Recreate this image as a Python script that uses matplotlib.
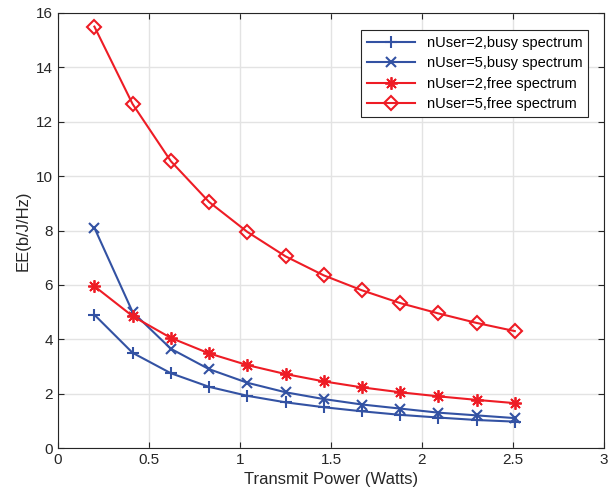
import numpy as np
import matplotlib
matplotlib.use('Agg')
import matplotlib.pyplot as plt

power = [0.2, 0.41, 0.62, 0.83, 1.04, 1.25, 1.46, 1.67, 1.88, 2.09, 2.3, 2.51]
busy2 = [4.9, 3.5, 2.75, 2.25, 1.92, 1.68, 1.5, 1.35, 1.22, 1.12, 1.03, 0.97]
busy5 = [8.1, 5.0, 3.65, 2.9, 2.4, 2.05, 1.8, 1.6, 1.45, 1.3, 1.2, 1.1]
free2 = [5.95, 4.85, 4.05, 3.48, 3.05, 2.72, 2.45, 2.23, 2.05, 1.9, 1.77, 1.65]
free5 = [15.5, 12.65, 10.55, 9.05, 7.95, 7.05, 6.35, 5.8, 5.33, 4.95, 4.6, 4.3]

plt.rcParams['font.family'] = ['Liberation Sans', 'DejaVu Sans']
blue = '#3352a3'
red = '#ee1c25'

fig = plt.figure(figsize=(6.09, 5.03), dpi=100)
ax = fig.add_axes([58/609, 1-448/503, 546/609, 435/503])

ax.plot(power, busy2, color=blue, marker='+', ms=9, mew=1.5, lw=1.5, label='nUser=2,busy spectrum')
ax.plot(power, busy5, color=blue, marker='x', ms=7, mew=1.5, lw=1.5, label='nUser=5,busy spectrum')
ax.plot(power, free2, color=red, marker=(8, 2, 0), ms=9, mew=1.3, lw=1.5, label='nUser=2,free spectrum')
ax.plot(power, free5, color=red, marker='D', ms=7, mew=1.5, mfc='none', lw=1.5, label='nUser=5,free spectrum')

ax.set_xlim(0, 3)
ax.set_ylim(0, 16)
ax.set_xticks(np.arange(0, 3.01, 0.5))
ax.set_xticklabels(['0', '0.5', '1', '1.5', '2', '2.5', '3'])
ax.set_yticks(np.arange(0, 17, 2))
ax.grid(True, color='#e3e3e3', lw=1)
ax.set_axisbelow(True)
ax.tick_params(direction='in', top=True, right=True, labelsize=11, colors='#262626', length=4)
for s in ax.spines.values():
    s.set_color('#262626')
    s.set_linewidth(0.8)
ax.set_xlabel('Transmit Power (Watts)', fontsize=12, color='#262626')
ax.set_ylabel('EE(b/J/Hz)', fontsize=12, color='#262626')
leg = ax.legend(loc='upper right', fontsize=10.5, fancybox=False, edgecolor='#262626',
                framealpha=1, handlelength=3.3, borderpad=0.4, labelspacing=0.45,
                bbox_to_anchor=(0.984, 0.978))
leg.get_frame().set_linewidth(0.8)

fig.savefig('out.png', dpi=100)
